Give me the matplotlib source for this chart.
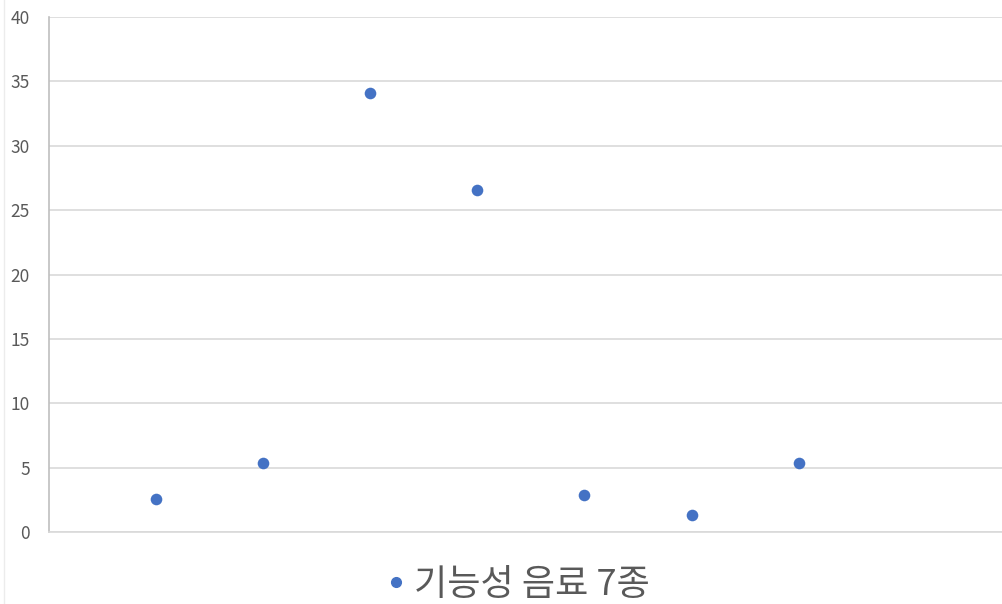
import matplotlib
matplotlib.use("Agg")
import matplotlib.pyplot as plt
from matplotlib.lines import Line2D

plt.rcParams['font.family'] = ['Noto Sans CJK KR', 'DejaVu Sans']

# data
x_vals = [1, 2, 3, 4, 5, 6, 7]
y_vals = [2.6, 5.4, 34.1, 26.6, 2.9, 1.3, 5.4]
series_name = "기능성 음료 7종"
y_ticks = [0, 5, 10, 15, 20, 25, 30, 35, 40]

blue = "#4472C4"
grid_col = "#d9d9d9"
text_col = "#595959"

fig = plt.figure(figsize=(10.02, 6.04), dpi=100)
ax = fig.add_axes([0.049, 0.119, 0.951, 0.853])

ax.scatter(x_vals, y_vals, s=70, color=blue, zorder=3, linewidths=0)

ax.set_xlim(0, 8.9)
ax.set_ylim(0, 40)
ax.set_yticks(y_ticks)
ax.set_xticks([])
ax.yaxis.grid(True, color=grid_col, linewidth=1.2)
ax.set_axisbelow(True)
ax.tick_params(axis='y', length=0, pad=14, labelsize=12.5, labelcolor=text_col)

for s in ['top', 'right']:
    ax.spines[s].set_visible(False)
ax.spines['left'].set_color('#bfbfbf')
ax.spines['bottom'].set_color(grid_col)
ax.spines['left'].set_linewidth(1.2)
ax.spines['bottom'].set_linewidth(1.2)

# faint chart-area border on the left
fig.add_artist(Line2D([0.004, 0.004], [0.0, 1.0], transform=fig.transFigure,
                      color='#ececec', linewidth=1))

handle = Line2D([], [], marker='o', linestyle='none', color=blue, markersize=7)
fig.legend([handle], [series_name], loc='center', bbox_to_anchor=(0.514, 0.032),
           frameon=False, fontsize=26, labelcolor=text_col,
           handletextpad=0.05, handlelength=0.9)

fig.savefig("out.png", dpi=100)
